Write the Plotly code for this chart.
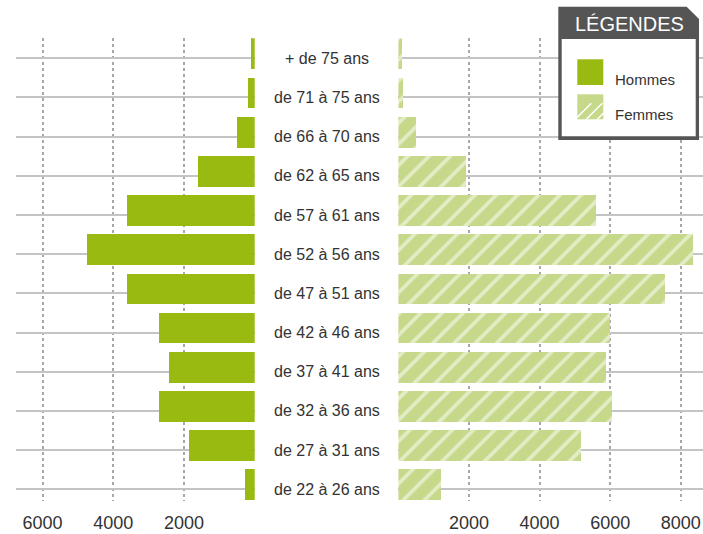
import plotly.graph_objects as go

# ---- data ----
age_groups = ["+ de 75 ans", "de 71 à 75 ans", "de 66 à 70 ans", "de 62 à 65 ans",
              "de 57 à 61 ans", "de 52 à 56 ans", "de 47 à 51 ans", "de 42 à 46 ans",
              "de 37 à 41 ans", "de 32 à 36 ans", "de 27 à 31 ans", "de 22 à 26 ans"]
hommes = [105, 190, 520, 1625, 3630, 4765, 3630, 2725, 2445, 2725, 1880, 295]
femmes = [110, 140, 505, 1935, 5605, 8365, 7570, 6015, 5890, 6070, 5190, 1225]
series_names = ["Hommes", "Femmes"]
left_ticks = [2000, 4000, 6000]
right_ticks = [2000, 4000, 6000, 8000]
legend_title = "LÉGENDES"

# ---- style ----
W, H = 703, 534
C_H = "#99bb11"
C_F = "#c6d88a"
TXT = "#333333"
DARK = "#555555"
FONT = "Liberation Sans"

def px(x):
    return x / W

def py(y):
    return 1 - y / H

fig = go.Figure()
fig.add_trace(go.Bar(
    y=age_groups, x=hommes, orientation="h", name=series_names[0],
    marker=dict(color=C_H, line=dict(width=0)),
    width=0.785, offset=-0.5, xaxis="x", yaxis="y", showlegend=False,
    hoverinfo="x+y"))
fig.add_trace(go.Bar(
    y=age_groups, x=femmes, orientation="h", name=series_names[1],
    marker=dict(color=C_F, line=dict(width=0),
                pattern=dict(shape="/", fgcolor="white", size=15, solidity=0.25)),
    width=0.785, offset=-0.5, xaxis="x2", yaxis="y", showlegend=False,
    hoverinfo="x+y"))

xcommon = dict(showgrid=True, gridcolor="#a8a8a8", gridwidth=1.5, griddash="3px,3px",
               zeroline=False, showline=False, ticks="",
               tickfont=dict(family=FONT, size=18, color=TXT),
               ticklabelstandoff=9, fixedrange=True)

ymin_px, ymax_px = 38.3, 500.7
fig.update_layout(
    width=W, height=H,
    margin=dict(l=0, r=0, t=0, b=0),
    paper_bgcolor="white", plot_bgcolor="rgba(0,0,0,0)",
    font=dict(family=FONT, color=TXT),
    bargap=0,
    xaxis=dict(domain=[px(15.7), px(254.7)], range=[6760, 0], anchor="y",
               tickvals=left_ticks, ticktext=[str(v) for v in left_ticks], **xcommon),
    xaxis2=dict(domain=[px(398.4), 1.0], range=[0, 8630], anchor="y",
                tickvals=right_ticks, ticktext=[str(v) for v in right_ticks], **xcommon),
    yaxis=dict(domain=[py(ymax_px), py(ymin_px)], type="category",
               categoryorder="array", categoryarray=age_groups,
               range=[11.29, -0.51], showticklabels=False, ticks="",
               showgrid=True, gridcolor="#c4c4c4", gridwidth=1.5,
               zeroline=False, showline=False, fixedrange=True),
)

# centre category labels
for g in age_groups:
    fig.add_annotation(x=px(326.5), xref="paper", y=g, yref="y", text=g,
                       showarrow=False, xanchor="center", yanchor="middle",
                       font=dict(family=FONT, size=16, color=TXT))

# ---- legend box ----
x0, x1, xc = 558.3, 699.0, 686.7
y0, y1, yc = 6.7, 140.0, 19.0
path = (f"M {px(x0)},{py(y0)} L {px(xc)},{py(y0)} L {px(x1)},{py(yc)} "
        f"L {px(x1)},{py(y1)} L {px(x0)},{py(y1)} Z")
fig.add_shape(type="path", path=path, xref="paper", yref="paper",
              fillcolor=DARK, line=dict(width=0), layer="above")
fig.add_shape(type="rect", xref="paper", yref="paper",
              x0=px(561.7), x1=px(695.7), y0=py(136.3), y1=py(39.0),
              fillcolor="white", line=dict(width=0), layer="above")
fig.add_annotation(x=px(629), y=py(23.5), xref="paper", yref="paper",
                   text=legend_title, showarrow=False, xanchor="center", yanchor="middle",
                   font=dict(family=FONT, size=20, color="white"))
# legend items
fig.add_shape(type="rect", xref="paper", yref="paper",
              x0=px(577.3), x1=px(603.3), y0=py(85.0), y1=py(59.3),
              fillcolor=C_H, line=dict(width=0), layer="above")
fig.add_shape(type="rect", xref="paper", yref="paper",
              x0=px(577.3), x1=px(603.3), y0=py(119.3), y1=py(94.3),
              fillcolor=C_F, line=dict(width=0), layer="above")
for i in range(3):
    # white diagonal hatch lines on the Femmes swatch
    bx = 577.3 + 2 + i * 11
    xe = min(bx + 12, 603.3)
    fig.add_shape(type="line", xref="paper", yref="paper",
                  x0=px(bx - 4), y0=py(119.3), x1=px(xe),
                  y1=py(119.3 - (xe - (bx - 4))),
                  line=dict(color="white", width=1.5), layer="above")
fig.add_annotation(x=px(612.5), y=py(79.5), xref="paper", yref="paper",
                   text=series_names[0], showarrow=False, xanchor="left", yanchor="middle",
                   font=dict(family=FONT, size=15, color=TXT))
fig.add_annotation(x=px(612.5), y=py(114.5), xref="paper", yref="paper",
                   text=series_names[1], showarrow=False, xanchor="left", yanchor="middle",
                   font=dict(family=FONT, size=15, color=TXT))

fig.write_html("out.html", config={"displayModeBar": False},
               post_script="document.body.style.margin='0';document.body.style.overflow='hidden';")
